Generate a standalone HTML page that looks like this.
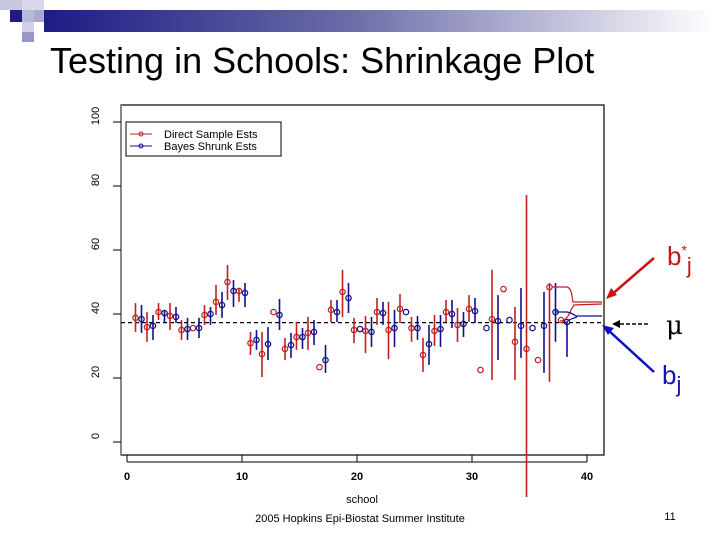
<!DOCTYPE html>
<html><head><meta charset="utf-8"><style>
body{margin:0;background:#fff}
#wrap{position:relative;width:720px;height:540px;overflow:hidden;font-family:"Liberation Sans",sans-serif}
</style></head><body>
<div id="wrap">
<svg id="svg" width="720" height="540" xmlns="http://www.w3.org/2000/svg">
<defs><linearGradient id="hg" x1="0" x2="1"><stop offset="0" stop-color="#1c1c84"/><stop offset="0.45" stop-color="#6a6aa8"/><stop offset="1" stop-color="#ffffff"/></linearGradient></defs>
<g>
<rect x="0" y="0" width="22" height="10" fill="#c8c8e0"/>
<rect x="22" y="0" width="22" height="10" fill="#d8d8ea"/>
<rect x="10" y="10" width="12" height="12" fill="#1c1c84"/>
<rect x="22" y="10" width="12" height="12" fill="#b8b8d8"/>
<rect x="34" y="10" width="10" height="12" fill="#a8a8d0"/>
<rect x="22" y="22" width="12" height="10" fill="#d0d0e6"/>
<rect x="22" y="32" width="12" height="10" fill="#9898c8"/>
<rect x="44" y="10" width="670" height="22" fill="url(#hg)"/>
</g>
<text x="50" y="73" font-size="36" fill="#000">Testing in Schools: Shrinkage Plot</text>
<rect x="121" y="105" width="483" height="350" fill="none" stroke="#000" stroke-width="1.2"/>
<line x1="121" y1="105" x2="121" y2="455" stroke="#888" stroke-width="2"/>
<g id="axes"></g>
<g id="marks"></g>
<g>
<rect x="126" y="122" width="155" height="34" fill="#fff" stroke="#000" stroke-width="1"/>
<line x1="130" y1="134" x2="152" y2="134" stroke="#c02020"/><circle cx="141" cy="134" r="2" fill="none" stroke="#c02020"/>
<text x="164" y="138" font-size="11">Direct Sample Ests</text>
<line x1="130" y1="146" x2="152" y2="146" stroke="#10108a"/><circle cx="141" cy="146" r="2" fill="none" stroke="#10108a"/>
<text x="164" y="150" font-size="11">Bayes Shrunk Ests</text>
</g>
<g fill="none" stroke-width="1.2">
<path d="M552 287 L567 287 Q571 288 572 296 L573 302 L602 302" stroke="#c02020"/>
<path d="M560 321 Q567 321 571 310 L574 305 L602 304" stroke="#c02020"/>
<path d="M555 312 L567 312 Q572 313 576 316 L602 316" stroke="#10108a"/>
<path d="M566 322 L571 319 L577 317" stroke="#10108a"/>
</g>
<g>
<line x1="654" y1="258" x2="610" y2="296" stroke="#d01010" stroke-width="2.5"/>
<polygon points="606,299 611,288 617,295" fill="#d01010"/>
<line x1="648" y1="324" x2="618" y2="324" stroke="#000" stroke-width="1.5" stroke-dasharray="4,2"/>
<polygon points="612,324 620,320 620,328" fill="#000"/>
<line x1="654" y1="372" x2="608" y2="330" stroke="#1010c0" stroke-width="2.5"/>
<polygon points="602,325 614,328 608,335" fill="#1010c0"/>
<text x="667" y="265" font-size="26" fill="#c01818">b<tspan dy="-10" font-size="14">*</tspan><tspan dy="18" font-size="22">j</tspan></text>
<text x="666" y="334" font-size="26" fill="#000" font-family="DejaVu Serif,serif">μ</text>
<text x="662" y="384" font-size="26" fill="#1515b0">b<tspan dy="8" font-size="22">j</tspan></text>
</g>
<text x="362" y="503" font-size="11" text-anchor="middle">school</text>
<text x="360" y="522" font-size="11" text-anchor="middle">2005 Hopkins Epi-Biostat Summer Institute</text>
<text x="670" y="520" font-size="11" text-anchor="middle">11</text>
</svg>
</div>
<script>
const xTicks=[0,10,20,30,40];
const yTicks=[0,20,40,60,80,100];
const meanValue=37.3;
const redEst=[38.8,35.9,40.6,39.4,35,35.6,39.7,43.8,50,47.2,30.9,27.5,40.6,29.1,32.8,34.1,23.4,41.3,46.9,35,34.7,40.6,35,41.6,35.6,27.2,34.7,40.6,36.6,41.6,22.5,38.4,47.8,31.3,29.1,25.6,48.4,38.1];
const redHi=[43.4,40.6,43.4,43.4,38.1,null,42.8,49.1,55.3,48.1,34.4,34.4,null,32.5,37.5,39.1,null,44.4,53.8,38.8,39.4,45,43.8,46.3,39.1,32.5,39.7,44.4,41.9,45.9,null,53.8,null,42.2,77.2,null,49.7,null];
const redLo=[34.4,31.3,38.1,35,31.9,null,36.6,39.7,44.4,43.8,27.2,20.3,null,25.6,28.8,28.8,null,37.5,39.1,30.9,27.8,36.6,25.9,37.2,31.3,21.9,30,37.5,31.3,37.5,null,19.4,null,19.4,-17.2,null,18.8,null];
const blueEst=[38.4,36.3,40.3,39.1,35.3,35.6,40,42.8,47.2,46.6,31.9,30.6,39.7,30.3,32.8,34.4,25.6,40.6,45,35.3,34.4,40.3,35.6,40.6,35.6,30.6,35.3,40,36.9,40.9,35.6,37.8,38.1,36.3,35.6,36.3,40.6,37.5];
const blueHi=[42.8,39.7,41.3,42.2,38.8,38.8,42.2,46.9,50.6,49.7,35,35.9,44.7,34.1,35.6,38.1,30.3,44.4,49.7,null,39.1,43.8,41.3,null,39.4,36.6,39.7,44.4,40.6,45,null,45.9,null,48.1,null,46.9,49.7,37.5];
const blueLo=[34.1,31.9,37.5,37.2,31.9,32.5,36.6,38.8,42.2,42.2,28.8,25.6,35,26.3,29.1,30.3,21.6,37.5,40.3,null,29.7,36.6,29.7,null,31.9,24.1,29.7,35.6,32.8,37.2,null,25.6,null,26.3,null,21.6,31.3,26.6];

const NS='http://www.w3.org/2000/svg';
const X=v=>127+v*11.5;
const Y=v=>442-v*3.2;
function mk(tag,attrs,parent){const e=document.createElementNS(NS,tag);for(const k in attrs)e.setAttribute(k,attrs[k]);parent.appendChild(e);return e;}
const axes=document.getElementById('axes');
const marks=document.getElementById('marks');
xTicks.forEach(t=>{
  const l=mk('line',{x1:X(t),x2:X(t),y1:455,y2:462,stroke:'#000'},axes);
  
  
  const tx=mk('text',{x:X(t),y:480,'font-size':11,'text-anchor':'middle','font-weight':'bold'},axes);
  tx.textContent=t;
  
  
});
const xl=mk('line',{x1:X(0),x2:X(40),y1:462,y2:462,stroke:'#000'},axes);


yTicks.forEach(t=>{
  const l=mk('line',{x1:113,x2:121,y1:Y(t),y2:Y(t),stroke:'#000'},axes);
  
  
  const tx=mk('text',{x:0,y:0,'font-size':11,'text-anchor':'middle',transform:`translate(99 ${Y(t)-6}) rotate(-90)`},axes);
  tx.textContent=t;
  
  
});
const ml=mk('line',{x1:121,x2:604,y1:Y(meanValue),y2:Y(meanValue),stroke:'#000','stroke-dasharray':'4,3','stroke-width':1.2},marks);


function series(est,hi,lo,off,color,name){
  est.forEach((v,i)=>{
    const x=X(i+1)+off;
    if(hi[i]!==null&&lo[i]!==null){
      const b=mk('line',{x1:x,x2:x,y1:Y(hi[i]),y2:Y(lo[i]),stroke:color,'stroke-width':1.6},marks);
      
      
    }
    const c=mk('circle',{cx:x,cy:Y(v),r:2.7,fill:'none',stroke:color,'stroke-width':1.2},marks);
    
    
  });
}
series(redEst,redHi,redLo,-3,'#c02020','direct-estimate');
series(blueEst,blueHi,blueLo,3,'#10108a','bayes-estimate');
</script>
</body></html>
